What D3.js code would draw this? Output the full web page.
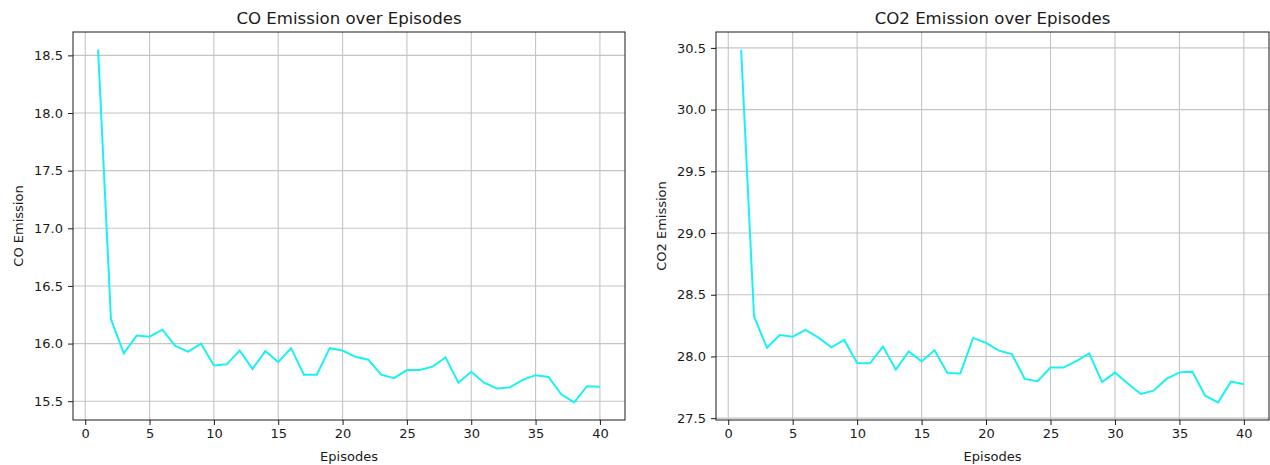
<!DOCTYPE html>
<html>
<head>
<meta charset="utf-8">
<script src="https://cdn.jsdelivr.net/npm/d3@7"></script>
<style>
	body { margin: 0; background: #fff; }
	svg text { font-family: "DejaVu Sans", sans-serif; fill: #1a1a1a; }
</style>
</head>
<body>
<svg id="chart" width="1270" height="465"></svg>
<script>
var episodes = d3.range(1, 41);

var coValues = [18.55, 16.21, 15.915, 16.07, 16.06, 16.12, 15.98, 15.93, 16.00, 15.81,
	15.82, 15.94, 15.78, 15.935, 15.84, 15.96, 15.73, 15.73, 15.96, 15.94,
	15.885, 15.86, 15.73, 15.70, 15.77, 15.77, 15.80, 15.88, 15.66, 15.755,
	15.66, 15.61, 15.62, 15.685, 15.726, 15.71, 15.56, 15.49, 15.63, 15.625];

var co2Values = [30.486, 28.325, 28.07, 28.174, 28.16, 28.215, 28.152, 28.074, 28.134, 27.947,
	27.945, 28.08, 27.893, 28.04, 27.96, 28.05, 27.866, 27.862, 28.15, 28.11,
	28.047, 28.02, 27.818, 27.80, 27.91, 27.91, 27.963, 28.025, 27.793, 27.869,
	27.78, 27.696, 27.723, 27.818, 27.871, 27.877, 27.682, 27.628, 27.796, 27.774];

var xTicks = [0, 5, 10, 15, 20, 25, 30, 35, 40];
var coTicks = [15.5, 16.0, 16.5, 17.0, 17.5, 18.0, 18.5];
var co2Ticks = [27.5, 28.0, 28.5, 29.0, 29.5, 30.0, 30.5];

var svg = d3.select("#chart");

//pad a domain by 5% like matplotlib does
function padded(ext) {
	var m = (ext[1] - ext[0]) * 0.05;
	return [ext[0] - m, ext[1] + m];
}

function drawPanel(opt) {
	var left = opt.left, right = opt.right, top = 32, bottom = 420;
	var g = svg.append("g");

	var x = d3.scaleLinear().domain(padded(d3.extent(episodes))).range([left, right]);
	var y = d3.scaleLinear().domain(padded(d3.extent(opt.values))).range([bottom, top]);

	//grid
	g.append("g").selectAll("line").data(xTicks).enter().append("line")
		.attr("x1", function(d) { return x(d); })
		.attr("x2", function(d) { return x(d); })
		.attr("y1", top).attr("y2", bottom)
		.attr("stroke", "#c4c4c4").attr("stroke-width", 1.1);
	g.append("g").selectAll("line").data(opt.ticks).enter().append("line")
		.attr("y1", function(d) { return y(d); })
		.attr("y2", function(d) { return y(d); })
		.attr("x1", left).attr("x2", right)
		.attr("stroke", "#c4c4c4").attr("stroke-width", 1.1);

	//line
	var line = d3.line()
		.x(function(d, i) { return x(episodes[i]); })
		.y(function(d) { return y(d); });
	g.append("path").datum(opt.values)
		.attr("d", line)
		.attr("fill", "none")
		.attr("stroke", "#1af2f2")
		.attr("stroke-width", 2);

	//axes
	var xAxis = d3.axisBottom(x).tickValues(xTicks).tickSize(5).tickPadding(4).tickFormat(d3.format("d"));
	var yAxis = d3.axisLeft(y).tickValues(opt.ticks).tickSize(5).tickPadding(5).tickFormat(d3.format(".1f"));

	var gx = g.append("g").attr("transform", "translate(0," + bottom + ")").call(xAxis);
	var gy = g.append("g").attr("transform", "translate(" + left + ",0)").call(yAxis);
	[gx, gy].forEach(function(a) {
		a.select(".domain").remove();
		a.selectAll("text").attr("font-size", 13).attr("fill", "#1a1a1a");
		a.selectAll(".tick line").attr("stroke", "#1a1a1a");
	});

	//frame
	g.append("rect")
		.attr("x", left).attr("y", top)
		.attr("width", right - left).attr("height", bottom - top)
		.attr("fill", "none").attr("stroke", "#1a1a1a").attr("stroke-width", 1);

	//title and labels
	g.append("text")
		.attr("x", (left + right) / 2).attr("y", 24)
		.attr("text-anchor", "middle").attr("font-size", 16.6)
		.text(opt.title);
	g.append("text")
		.attr("x", (left + right) / 2).attr("y", 461)
		.attr("text-anchor", "middle").attr("font-size", 13)
		.text("Episodes");
	g.append("text")
		.attr("transform", "translate(" + opt.labelX + "," + (top + bottom) / 2 + ") rotate(-90)")
		.attr("text-anchor", "middle").attr("font-size", 13)
		.text(opt.yLabel);
}

drawPanel({ left: 73, right: 625, values: coValues, ticks: coTicks,
	title: "CO Emission over Episodes", yLabel: "CO Emission", labelX: 23 });
drawPanel({ left: 716, right: 1269, values: co2Values, ticks: co2Ticks,
	title: "CO2 Emission over Episodes", yLabel: "CO2 Emission", labelX: 666 });
</script>
</body>
</html>
